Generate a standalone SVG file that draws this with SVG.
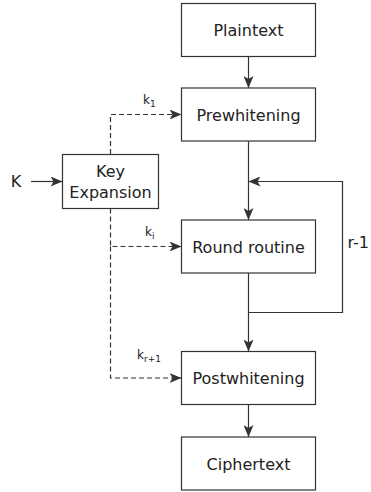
<svg xmlns="http://www.w3.org/2000/svg" width="371" height="492" viewBox="0 0 371 492">
<defs>
<style>
.box{fill:#fff;stroke:#333;stroke-width:1.2}
.t{font-family:"DejaVu Sans",sans-serif;font-size:16px;fill:#222;text-anchor:middle}
.lab{font-family:"DejaVu Sans",sans-serif;font-size:12px;fill:#222}
.sub{font-size:9px}
.ln{fill:none;stroke:#333;stroke-width:1.2}
.dash{fill:none;stroke:#333;stroke-width:1.2;stroke-dasharray:5,3}
</style>
<marker id="ah" viewBox="0 0 12 10" refX="12" refY="5" markerWidth="12" markerHeight="10" markerUnits="userSpaceOnUse" orient="auto">
<path d="M0,0 L12,5 L0,10 L3,5 Z" fill="#333"/>
</marker>
</defs>
<rect width="371" height="492" fill="#fff"/>
<g id="connectors">
<line class="ln" x1="248.5" y1="56.5" x2="248.5" y2="88" marker-end="url(#ah)"/>
<line class="ln" x1="248.5" y1="141" x2="248.5" y2="220" marker-end="url(#ah)"/>
<polyline class="ln" points="248.5,312.5 342.5,312.5 342.5,181.5 248.5,181.5" marker-end="url(#ah)"/>
<line class="ln" x1="248.5" y1="273" x2="248.5" y2="351.5" marker-end="url(#ah)"/>
<line class="ln" x1="248.5" y1="404.5" x2="248.5" y2="437" marker-end="url(#ah)"/>
<line class="ln" x1="31" y1="181.5" x2="62.5" y2="181.5" marker-end="url(#ah)"/>
<polyline class="dash" points="110.5,154 110.5,114.5 181.5,114.5" marker-end="url(#ah)"/>
<polyline class="dash" points="110.5,208.5 110.5,246.5 181.5,246.5" marker-end="url(#ah)"/>
<polyline class="dash" points="110.5,246.5 110.5,378 181.5,378" marker-end="url(#ah)"/>
<text class="lab" x="143" y="104">k<tspan class="sub" dy="3">1</tspan></text>
<text class="lab" x="145" y="236">k<tspan class="sub" dy="3">i</tspan></text>
<text class="lab" x="137" y="359">k<tspan class="sub" dy="3">r+1</tspan></text>
<text class="t" x="347.5" y="248" style="text-anchor:start">r-1</text>
<text class="t" x="16" y="187">K</text>
</g>
<g id="plaintext"><rect class="box" x="181.5" y="3.5" width="134" height="53"/><text class="t" x="248.5" y="36">Plaintext</text></g>
<g id="prewhitening"><rect class="box" x="181.5" y="88" width="134" height="53"/><text class="t" x="248.5" y="120.5">Prewhitening</text></g>
<g id="keyexpansion"><rect class="box" x="62.5" y="154.5" width="96" height="54"/><text class="t" x="110.5" y="177">Key</text><text class="t" x="110.5" y="198">Expansion</text></g>
<g id="round"><rect class="box" x="181.5" y="220" width="134" height="53"/><text class="t" x="248.5" y="252.5">Round routine</text></g>
<g id="postwhitening"><rect class="box" x="181.5" y="351.5" width="134" height="53"/><text class="t" x="248.5" y="384">Postwhitening</text></g>
<g id="ciphertext"><rect class="box" x="181.5" y="437" width="134" height="53"/><text class="t" x="248.5" y="469.5">Ciphertext</text></g>
</svg>
